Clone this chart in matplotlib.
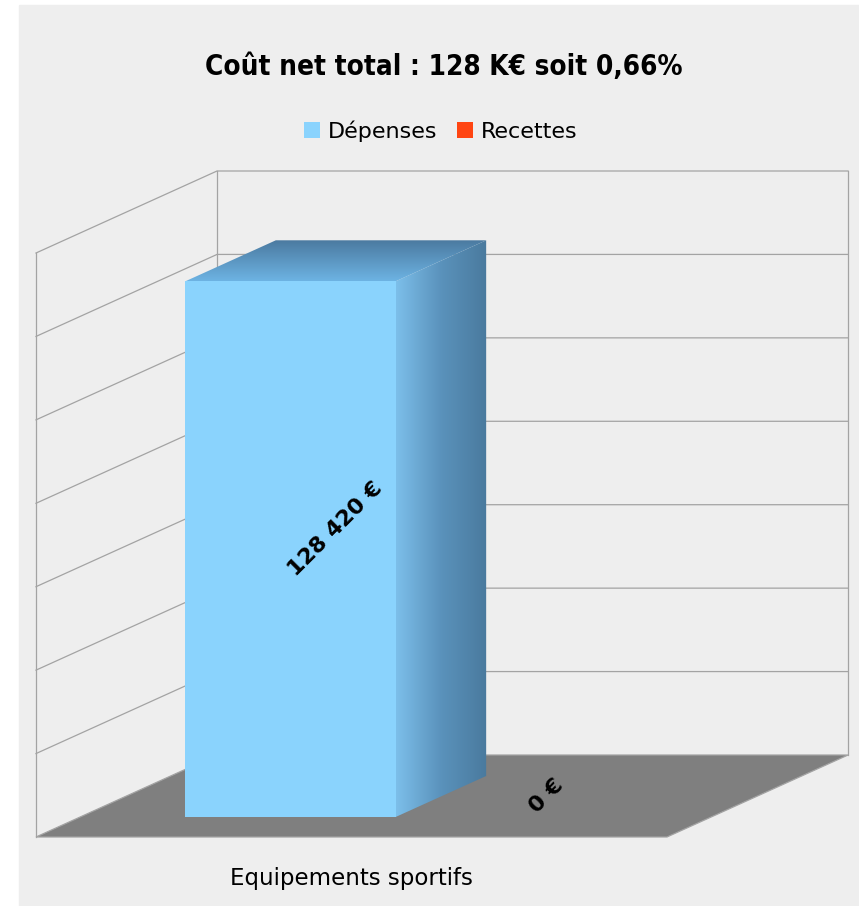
import numpy as np
import matplotlib
matplotlib.use("Agg")
import matplotlib.pyplot as plt
from matplotlib.patches import Polygon, Patch, Rectangle
from matplotlib.colors import LinearSegmentedColormap

# data
categories = ["Equipements sportifs"]
series_names = ["Dépenses", "Recettes"]
depenses = [128420]
recettes = [0]
value_labels = ["128 420 €", "0 €"]
title = "Coût net total : 128 K€ soit 0,66%"
y_max = 140000
y_step = 20000

# colours
c_bg = "#eeeeee"
c_grid = "#a3a3a3"
c_floor = "#7f7f7f"
c_front = "#8ad3fd"
c_recettes = "#ff4512"

# layout of the oblique 3D box (category units along x, value units along y)
W_PX, H_PX = 859, 906
px_x = 631.0            # pixels per category width
px_y = 584.0 / y_max    # pixels per value unit
org_x, org_y = 36, 906 - 837   # pixel position of front-left floor corner
depth_dx = 181 / px_x          # depth offset in x units
depth_dy = 82 / px_y           # depth offset in value units
gap = 1.0                      # gap width (fraction of bar width)
bar_d0, bar_d1 = 0.244, 0.744  # bar depth range

fig = plt.figure(figsize=(W_PX / 100, H_PX / 100), dpi=100)
# grey background panel
fig.patches.append(Rectangle((19 / W_PX, 0), 1, 1 - 5 / H_PX, transform=fig.transFigure,
                             color=c_bg, zorder=-10))
ax = fig.add_axes([0, 0, 1, 1])
ax.set_zorder(1)
xlim = (-0.5 - org_x / px_x, -0.5 + (W_PX - org_x) / px_x)
ylim = (-org_y / px_y, (H_PX - org_y) / px_y)
ax.set_xlim(xlim)
ax.set_ylim(ylim)
ax.axis("off")


def P(u, d, v):
    return (u + d * depth_dx, v + d * depth_dy)


x0, x1 = -0.5, 0.5

# floor
floor = Polygon([P(x0, 0, 0), P(x1, 0, 0), P(x1, 1, 0), P(x0, 1, 0)],
                closed=True, facecolor=c_floor, edgecolor=c_grid, lw=0.9, zorder=2)
ax.add_patch(floor)

# gridlines on the left and back walls
for v in np.arange(y_step, y_max + 1, y_step):
    a, b, c = P(x0, 0, v), P(x0, 1, v), P(x1, 1, v)
    ax.plot([a[0], b[0], c[0]], [a[1], b[1], c[1]], color=c_grid, lw=0.9, zorder=1)
# wall edges
for pts in ([P(x0, 0, 0), P(x0, 0, y_max)],
            [P(x0, 1, 0), P(x0, 1, y_max)],
            [P(x1, 1, 0), P(x1, 1, y_max)]):
    ax.plot([pts[0][0], pts[1][0]], [pts[0][1], pts[1][1]], color=c_grid, lw=0.9, zorder=1)

# bars
n = len(series_names)
bw = 1.0 / (n + gap)
top_cmap = LinearSegmentedColormap.from_list("top", ["#6db3e3", "#4b7aa0"])
side_cmap = LinearSegmentedColormap.from_list("side", ["#7cbfea", "#5a92bb", "#4a7a9e"])

for ci, cat in enumerate(categories):
    vals = [depenses[ci], recettes[ci]]
    for si, v in enumerate(vals):
        left = ci - n * bw / 2 + si * bw
        right = left + bw
        dm = (bar_d0 + bar_d1) / 2
        if v > 0:
            front = Polygon([P(left, bar_d0, 0), P(right, bar_d0, 0),
                             P(right, bar_d0, v), P(left, bar_d0, v)],
                            closed=True, facecolor=c_front, edgecolor="none", zorder=3)
            ax.add_patch(front)
            # side face with horizontal gradient
            side_pts = [P(right, bar_d0, 0), P(right, bar_d1, 0),
                        P(right, bar_d1, v), P(right, bar_d0, v)]
            side = Polygon(side_pts, closed=True, facecolor="none", edgecolor="none")
            ax.add_patch(side)
            xs = [p[0] for p in side_pts]
            ys = [p[1] for p in side_pts]
            grad = np.linspace(0, 1, 256).reshape(1, -1)
            im = ax.imshow(grad, cmap=side_cmap, extent=[min(xs), max(xs), min(ys), max(ys)],
                           aspect="auto", origin="lower", zorder=3)
            im.set_clip_path(side)
            # top face with vertical gradient
            top_pts = [P(left, bar_d0, v), P(right, bar_d0, v),
                       P(right, bar_d1, v), P(left, bar_d1, v)]
            top = Polygon(top_pts, closed=True, facecolor="none", edgecolor="none")
            ax.add_patch(top)
            xs = [p[0] for p in top_pts]
            ys = [p[1] for p in top_pts]
            grad = np.linspace(0, 1, 256).reshape(-1, 1)
            im = ax.imshow(grad, cmap=top_cmap, extent=[min(xs), max(xs), min(ys), max(ys)],
                           aspect="auto", origin="lower", zorder=3)
            im.set_clip_path(top)
        cx, cy = P((left + right) / 2, dm, v / 2)
        ax.text(cx, cy, value_labels[si], rotation=45, ha="center", va="center",
                fontsize=16, fontweight="bold", zorder=5)
    lx, ly = P(ci, 0, 0)
    ax.text(lx, ly - 42 / px_y, cat, ha="center", va="center", fontsize=16.5, zorder=5)

ax.set_xlim(xlim)
ax.set_ylim(ylim)

# title and legend
fig.text(444 / W_PX, 1 - 67 / H_PX, title, ha="center", va="center",
         fontsize=20, fontweight="bold", fontstretch="condensed")
handles = [Patch(facecolor=c_front, edgecolor="none", label=series_names[0]),
           Patch(facecolor=c_recettes, edgecolor="none", label=series_names[1])]
fig.legend(handles=handles, loc="center", bbox_to_anchor=(441 / W_PX, 1 - 131 / H_PX),
           ncol=2, frameon=False, fontsize=16, handlelength=0.72, handleheight=0.72,
           handletextpad=0.35, columnspacing=0.9)

fig.savefig("out.png", dpi=100)
